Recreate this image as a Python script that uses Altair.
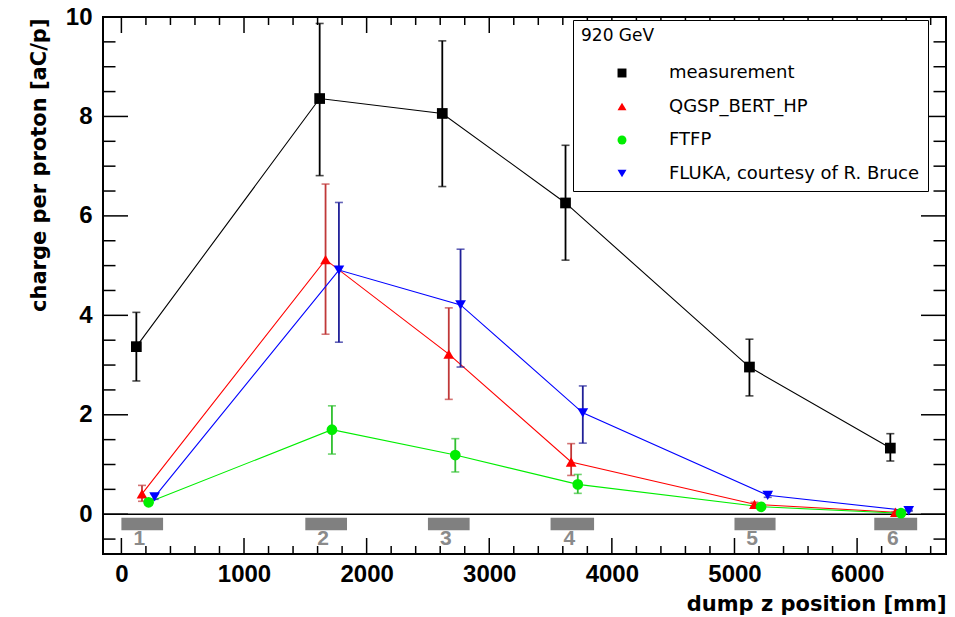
import altair as alt
import pandas as pd

# ---------------- data ----------------
series_names = ["measurement", "QGSP_BERT_HP", "FTFP", "FLUKA, courtesy of R. Bruce"]
series_colors = ["#000000", "#ff0000", "#00ee00", "#0000ff"]
err_colors = ["#000000", "#c03838", "#30c030", "#202098"]
series_shapes = ["square", "triangle-up", "circle", "triangle-down"]

meas_x = [122, 1617, 2617, 3622, 5122, 6271]
meas_y = [3.37, 8.36, 8.06, 6.26, 2.96, 1.33]
meas_hi = [4.06, 9.87, 9.52, 7.42, 3.52, 1.62]
meas_lo = [2.68, 6.81, 6.59, 5.11, 2.38, 1.07]

qgsp_x = [168, 1665, 2670, 3668, 5163, 6312]
qgsp_y = [0.41, 5.12, 3.22, 1.05, 0.20, 0.04]
qgsp_hi = [0.58, 6.64, 4.15, 1.42, 0.24, 0.05]
qgsp_lo = [0.26, 3.62, 2.31, 0.78, 0.16, 0.03]

ftfp_x = [222, 1717, 2723, 3722, 5217, 6358]
ftfp_y = [0.24, 1.70, 1.19, 0.60, 0.15, 0.02]
ftfp_hi = [0.30, 2.18, 1.52, 0.80, 0.18, 0.03]
ftfp_lo = [0.18, 1.21, 0.85, 0.42, 0.12, 0.01]

fluka_x = [271, 1774, 2766, 3763, 5271, 6421]
fluka_y = [0.35, 4.91, 4.21, 2.04, 0.38, 0.07]
fluka_hi = [0.40, 6.27, 5.33, 2.58, 0.42, 0.08]
fluka_lo = [0.30, 3.46, 2.96, 1.43, 0.34, 0.06]

box_x0 = [0, 1500, 2500, 3500, 5000, 6140]
box_x1 = [340, 1840, 2840, 3855, 5335, 6490]
box_y0 = -0.32
box_y1 = -0.07
box_label_y = -0.5
box_labels = ["1", "2", "3", "4", "5", "6"]

x_major = [0, 1000, 2000, 3000, 4000, 5000, 6000]
x_minor = [v for v in range(200, 6800, 200) if v % 1000 != 0]
y_major = [0, 2, 4, 6, 8, 10]
y_minor = [-0.5, 0.5, 1, 1.5, 2.5, 3, 3.5, 4.5, 5, 5.5, 6.5, 7, 7.5, 8.5, 9, 9.5]

X_DOMAIN = [-150, 6725]
Y_DOMAIN = [-0.8, 10]
W, H = 843, 537
FONT = "Liberation Sans"
WIDE = "DejaVu Sans"

# ---------------- tables ----------------
series_data = [
    (meas_x, meas_y, meas_hi, meas_lo),
    (qgsp_x, qgsp_y, qgsp_hi, qgsp_lo),
    (ftfp_x, ftfp_y, ftfp_hi, ftfp_lo),
    (fluka_x, fluka_y, fluka_hi, fluka_lo),
]
frames = []
for name, (xv, yv, hv, lv) in zip(series_names, series_data):
    frames.append(pd.DataFrame(dict(series=name, x=xv, y=yv, hi=hv, lo=lv)))
df = pd.concat(frames, ignore_index=True)

boxes = pd.DataFrame(dict(x0=box_x0, x1=box_x1, lab=box_labels))
boxes["xc"] = (boxes["x0"] + boxes["x1"]) / 2
boxes["y0"] = box_y0
boxes["y1"] = box_y1
boxes["ly"] = box_label_y

xs = alt.Scale(domain=X_DOMAIN, nice=False, zero=False)
ys = alt.Scale(domain=Y_DOMAIN, nice=False, zero=False)

x_axis = alt.Axis(
    values=x_major, format="d", ticks=False, domain=False, grid=False,
    labelFont=FONT, labelFontSize=24, labelFontWeight="bold", labelColor="black",
    labelPadding=8, labelFlush=False,
    title="dump z position [mm]", titleFont=WIDE, titleFontSize=21, titleFontWeight="bold",
    titleColor="black", titleAlign="right", titleAnchor="end", titleX=W, titleY=56,
    titleBaseline="alphabetic",
)
y_axis = alt.Axis(
    values=y_major, format="d", ticks=False, domain=False, grid=False,
    labelFont=FONT, labelFontSize=24, labelFontWeight="bold", labelColor="black",
    labelPadding=11, labelFlush=False,
    title="charge per proton [aC/p]", titleFont=WIDE, titleFontSize=21, titleFontWeight="bold",
    titleColor="black", titleAngle=270, titleAlign="right", titleX=-58, titleY=1,
    titleBaseline="alphabetic",
)

# gray dump boxes (this layer carries the axes)
rect = alt.Chart(boxes).mark_rect(color="#808080").encode(
    x=alt.X("x0:Q", scale=xs, axis=x_axis), x2="x1:Q",
    y=alt.Y("y0:Q", scale=ys, axis=y_axis), y2="y1:Q",
)
rect_txt = alt.Chart(boxes).mark_text(
    font=FONT, fontSize=21, fontWeight="bold", color="#8a8a8a", baseline="middle", dx=-3
).encode(
    x=alt.X("xc:Q", scale=xs),
    y=alt.Y("ly:Q", scale=ys),
    text="lab:N",
)

zero_line = alt.Chart(pd.DataFrame({"v": [0]})).mark_rule(color="black", strokeWidth=1.5).encode(
    y=alt.Y("v:Q", scale=ys)
)

# ROOT style inward ticks on all four sides
def yticks(vals, length):
    d = pd.DataFrame({"v": vals})
    left = alt.Chart(d).mark_rule(color="black", strokeWidth=1.5).encode(
        y=alt.Y("v:Q", scale=ys), x=alt.value(0), x2=alt.value(length))
    right = alt.Chart(d).mark_rule(color="black", strokeWidth=1.5).encode(
        y=alt.Y("v:Q", scale=ys), x=alt.value(W - length), x2=alt.value(W))
    return [left, right]

def xticks(vals, length):
    d = pd.DataFrame({"v": vals})
    bottom = alt.Chart(d).mark_rule(color="black", strokeWidth=1.5).encode(
        x=alt.X("v:Q", scale=xs), y=alt.value(H - length), y2=alt.value(H))
    top = alt.Chart(d).mark_rule(color="black", strokeWidth=1.5).encode(
        x=alt.X("v:Q", scale=xs), y=alt.value(0), y2=alt.value(length))
    return [bottom, top]

tick_layers = yticks(y_major, 25) + yticks(y_minor, 12.5) + xticks(x_major, 16) + xticks(x_minor, 8)

series_layers = []
for name, col, ecol in zip(series_names, series_colors, err_colors):
    sub = df[df["series"] == name]
    b = alt.Chart(sub)
    series_layers.append(b.mark_line(strokeWidth=1.1, color=col).encode(
        x=alt.X("x:Q", scale=xs), y=alt.Y("y:Q", scale=ys)))
    series_layers.append(b.mark_rule(strokeWidth=1.8, color=ecol).encode(
        x=alt.X("x:Q", scale=xs), y=alt.Y("lo:Q", scale=ys), y2="hi:Q"))
    series_layers.append(b.mark_tick(orient="horizontal", size=8, thickness=1.6, color=ecol).encode(
        x=alt.X("x:Q", scale=xs), y=alt.Y("hi:Q", scale=ys)))
    series_layers.append(b.mark_tick(orient="horizontal", size=8, thickness=1.6, color=ecol).encode(
        x=alt.X("x:Q", scale=xs), y=alt.Y("lo:Q", scale=ys)))

points = alt.Chart(df).mark_point(filled=True, opacity=1, size=115).encode(
    x=alt.X("x:Q", scale=xs),
    y=alt.Y("y:Q", scale=ys),
    color=alt.Color("series:N", scale=alt.Scale(domain=series_names, range=series_colors),
                    legend=alt.Legend(
                        title="920 GeV", orient="none", legendX=470, legendY=3,
                        direction="vertical",
                        strokeColor="black", fillColor="white", padding=8,
                        titleFont=WIDE, titleFontSize=17, titleFontWeight="normal",
                        titleColor="black", titlePadding=19,
                        labelFont=WIDE, labelFontSize=18, labelColor="black", labelLimit=500,
                        symbolSize=80, symbolOffset=32, labelOffset=38, rowPadding=15.5,
                        symbolStrokeWidth=0,
                    )),
    shape=alt.Shape("series:N", scale=alt.Scale(domain=series_names, range=series_shapes)),
)

chart = alt.layer(
    rect, rect_txt, zero_line, *tick_layers, *series_layers, points
).properties(
    width=W, height=H,
    padding={"left": 103, "top": 17, "right": 9, "bottom": 63},
    autosize=alt.AutoSizeParams(type="none"),
    background="white",
).configure_view(stroke="black", strokeWidth=2)

chart.save("out.html", embed_options={"renderer": "svg", "actions": False})
